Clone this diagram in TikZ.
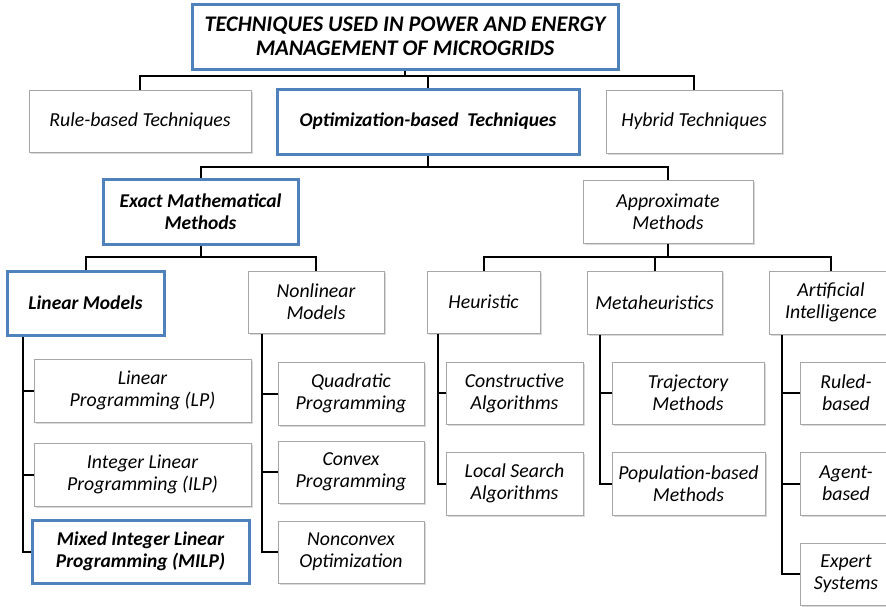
\documentclass[tikz,border=0pt]{standalone}
\usepackage{fontspec}
\setmainfont{Carlito}
\usetikzlibrary{shadows}

\definecolor{bordoblu}{RGB}{79,129,189}
\definecolor{bordogrigio}{RGB}{166,166,166}

\begin{document}
\begin{tikzpicture}[x=1pt, y=-1pt,
		box/.style={draw=bordogrigio, line width=1pt, fill=white, align=center,
			font=\fontsize{19.8}{22}\selectfont\itshape,
			drop shadow={shadow xshift=1.5pt, shadow yshift=-1.5pt, opacity=0.3, fill=gray}},
		boxblu/.style={box, draw=bordoblu, line width=3pt, font=\fontsize{19.5}{22}\selectfont\bfseries\itshape},
		link/.style={draw=black, line width=2pt}]
		\useasboundingbox (0,0) rectangle (886,606);

		% Radice
		\node[boxblu, minimum width=426pt, minimum height=65pt, font=\fontsize{22.3}{24}\selectfont\bfseries\itshape] (root) at (405,36.5)
			{TECHNIQUES USED IN POWER AND ENERGY\\MANAGEMENT OF MICROGRIDS};

		% Primo livello
		\node[box, minimum width=222pt, minimum height=62pt] (rule) at (140,121) {Rule-based Techniques};
		\node[boxblu, minimum width=302pt, minimum height=65pt] (opt) at (428,121.5) {Optimization-based\ \ Techniques};
		\node[box, minimum width=176pt, minimum height=63pt] (hybrid) at (694,121.5) {Hybrid Techniques};

		% Secondo livello
		\node[boxblu, minimum width=195pt, minimum height=65pt] (exact) at (200.5,211.5) {Exact Mathematical\\Methods};
		\node[box, minimum width=170pt, minimum height=63pt] (approx) at (668,211.5) {Approximate\\Methods};

		% Terzo livello
		\node[boxblu, minimum width=157pt, minimum height=64pt] (linmod) at (85.5,303) {Linear Models};
		\node[box, minimum width=136pt, minimum height=62pt] (nonlin) at (316,302) {Nonlinear\\Models};
		\node[box, minimum width=113pt, minimum height=62pt] (heur) at (483.5,302) {Heuristic};
		\node[box, minimum width=135pt, minimum height=63pt] (meta) at (654.5,302.5) {Metaheuristics};
		\node[box, minimum width=124pt, minimum height=63pt] (ai) at (831,302.5) {Artificial\\Intelligence};

		% Foglie
		\node[box, minimum width=217pt, minimum height=63pt] (lp) at (142.5,390.5) {Linear\\Programming (LP)};
		\node[box, minimum width=217pt, minimum height=63pt] (ilp) at (142.5,474.5) {Integer Linear\\Programming (ILP)};
		\node[boxblu, minimum width=217pt, minimum height=63pt] (milp) at (140.5,551.5) {Mixed Integer Linear\\Programming (MILP)};

		\node[box, minimum width=146pt, minimum height=63pt] (quad) at (351,393.5) {Quadratic\\Programming};
		\node[box, minimum width=146pt, minimum height=62pt] (convex) at (351,472) {Convex\\Programming};
		\node[box, minimum width=146pt, minimum height=62pt] (nonconv) at (351,552) {Nonconvex\\Optimization};

		\node[box, minimum width=137pt, minimum height=62pt] (constr) at (514.5,393) {Constructive\\Algorithms};
		\node[box, minimum width=137pt, minimum height=63pt] (local) at (514.5,483.5) {Local Search\\Algorithms};

		\node[box, minimum width=152pt, minimum height=62pt] (traj) at (688,393) {Trajectory\\Methods};
		\node[box, minimum width=153pt, minimum height=63pt] (popul) at (688.5,483.5) {Population-based\\Methods};

		\node[box, minimum width=92pt, minimum height=62pt] (ruled) at (846,393) {Ruled-\\based};
		\node[box, minimum width=92pt, minimum height=63pt] (agent) at (846,483.5) {Agent-\\based};
		\node[box, minimum width=92pt, minimum height=62pt] (expert) at (846,574) {Expert\\Systems};

		% Collegamenti
		\coordinate (b1) at (405,76);
		\draw[link] (root.south) -- (b1);
		\draw[link] (rule.north) |- (b1) -| (hybrid.north);
		\draw[link] (opt.north) -- (opt.north |- b1);

		\coordinate (b2) at (428,167);
		\draw[link] (opt.south) -- (b2);
		\draw[link] (exact.north) |- (b2) -| (approx.north);

		\coordinate (b3) at (200.5,257);
		\draw[link] (exact.south) -- (b3);
		\draw[link] (linmod.north) |- (b3) -| (nonlin.north);

		\coordinate (b4) at (668,257);
		\draw[link] (approx.south) -- (b4);
		\draw[link] (heur.north) |- (b4) -| (ai.north);
		\draw[link] (meta.north) -- (meta.north |- b4);

		% Dorsali verticali
		\coordinate (s1) at ([xshift=17pt]linmod.south west);
		\draw[link] (s1) |- (milp.west);
		\draw[link] (lp.west) -- (lp.west -| s1);
		\draw[link] (ilp.west) -- (ilp.west -| s1);

		\coordinate (s2) at ([xshift=14pt]nonlin.south west);
		\draw[link] (s2) |- (nonconv.west);
		\draw[link] (quad.west) -- (quad.west -| s2);
		\draw[link] (convex.west) -- (convex.west -| s2);

		\coordinate (s3) at ([xshift=11pt]heur.south west);
		\draw[link] (s3) |- (local.west);
		\draw[link] (constr.west) -- (constr.west -| s3);

		\coordinate (s4) at ([xshift=13pt]meta.south west);
		\draw[link] (s4) |- (popul.west);
		\draw[link] (traj.west) -- (traj.west -| s4);

		\coordinate (s5) at ([xshift=13pt]ai.south west);
		\draw[link] (s5) |- (expert.west);
		\draw[link] (ruled.west) -- (ruled.west -| s5);
		\draw[link] (agent.west) -- (agent.west -| s5);
	\end{tikzpicture}
\end{document}
